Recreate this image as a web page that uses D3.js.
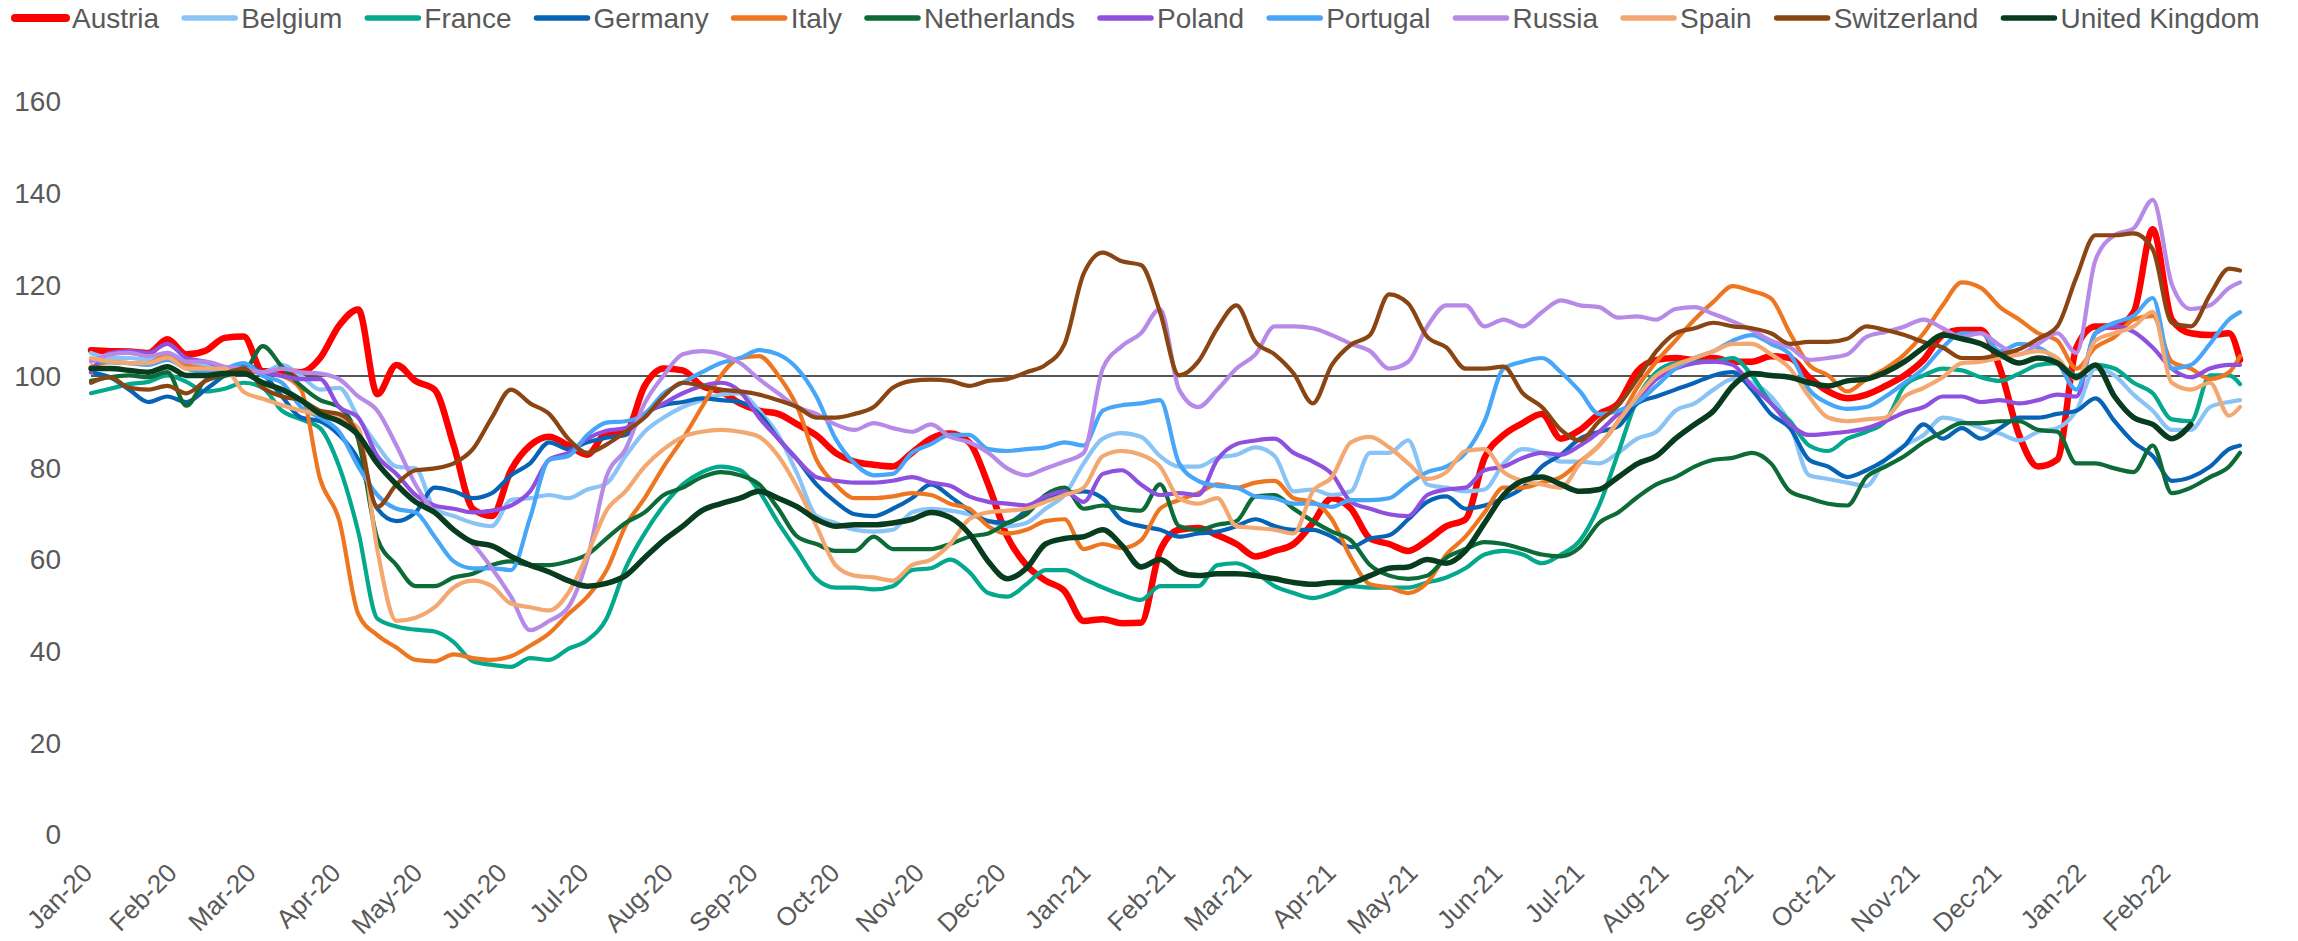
<!DOCTYPE html>
<html>
<head>
<meta charset="utf-8">
<script src="https://cdn.jsdelivr.net/npm/d3@7"></script>
<style>
  html, body { margin: 0; padding: 0; background: #fff; }
  svg text { font-family: "Liberation Sans", Arial, sans-serif; font-size: 28px; fill: #595959; }
</style>
</head>
<body>
<svg id="chart" width="2298" height="941"></svg>
<script>
// weekly samples, Jan 13 2020 .. Mar 7 2022, plus last day Mar 11 2022
const sampleDates = [
  "2020-01-13","2020-01-20","2020-01-27","2020-02-03","2020-02-10","2020-02-17","2020-02-24",
  "2020-03-02","2020-03-09","2020-03-16","2020-03-23","2020-03-30","2020-04-06","2020-04-13",
  "2020-04-20","2020-04-27","2020-05-04","2020-05-11","2020-05-18","2020-05-25","2020-06-01",
  "2020-06-08","2020-06-15","2020-06-22","2020-06-29","2020-07-06","2020-07-13","2020-07-20",
  "2020-07-27","2020-08-03","2020-08-10","2020-08-17","2020-08-24","2020-08-31","2020-09-07",
  "2020-09-14","2020-09-21","2020-09-28","2020-10-05","2020-10-12","2020-10-19","2020-10-26",
  "2020-11-02","2020-11-09","2020-11-16","2020-11-23","2020-11-30","2020-12-07","2020-12-14",
  "2020-12-21","2020-12-28","2021-01-04","2021-01-11","2021-01-18","2021-01-25","2021-02-01",
  "2021-02-08","2021-02-15","2021-02-22","2021-03-01","2021-03-08","2021-03-15","2021-03-22",
  "2021-03-29","2021-04-05","2021-04-12","2021-04-19","2021-04-26","2021-05-03","2021-05-10",
  "2021-05-17","2021-05-24","2021-05-31","2021-06-07","2021-06-14","2021-06-21","2021-06-28",
  "2021-07-05","2021-07-12","2021-07-19","2021-07-26","2021-08-02","2021-08-09","2021-08-16",
  "2021-08-23","2021-08-30","2021-09-06","2021-09-13","2021-09-20","2021-09-27","2021-10-04",
  "2021-10-11","2021-10-18","2021-10-25","2021-11-01","2021-11-08","2021-11-15","2021-11-22",
  "2021-11-29","2021-12-06","2021-12-13","2021-12-20","2021-12-27","2022-01-03","2022-01-10",
  "2022-01-17","2022-01-24","2022-01-31","2022-02-07","2022-02-14","2022-02-21","2022-02-28",
  "2022-03-07","2022-03-11"
];

const austria = [
  105.6,105.4,105.3,105,108,104.7,105.5,108.3,108.6,101,101,100.8,103.9,111,114.5,96,102.4,98.9,97,84.8,71,69.4,79.4,84.8,86.7,84.8,82.8,87.5,
  87.8,97.8,101.6,101.2,97.8,96.6,94,92.4,91.7,89.4,87,83.2,81.3,80.6,80.2,83.2,86.3,87.4,85.5,76.3,64.9,58.7,55.3,53,46.5,46.9,46,
  46.1,61.8,66.4,66.8,65.2,63.3,60.6,61.8,63.3,67.9,73.3,71,64.5,63.3,61.8,64.1,67.2,68.7,82.1,87.1,89.7,91.7,86.3,88.2,91.7,94,101,
  103.5,103.9,103.5,103.9,103.1,103.1,104.3,103.9,99.7,96.6,95.1,95.9,97.8,100.1,103.5,108.9,110,110,101.6,87.1,80.2,81.7,106.2,110.8,110.8,113.9,132,112.3,109.3,108.9,109.3,103.5
];
const belgium = [
  105,103.9,103.9,103.5,105,103.1,102.4,101.6,101.6,100.8,102.4,100,97,97.4,90.9,84.8,80.2,79.8,71,69.4,67.9,67.2,72.9,73.3,74,73.3,75.2,76.5,
  82.5,87.8,90.9,93.2,94.7,95.9,96.2,92.4,87.1,78.6,69.4,67.9,66.4,66,66.4,70.2,71,70.6,69.8,68.3,67.2,67.9,71,74,80.9,86.3,87.5,
  86.7,82.5,80.2,80.2,82.1,82.8,84.4,82.5,74.8,75.2,74,74.8,83.2,83.2,85.9,76.3,75.6,74.8,75.2,80.9,84,83.2,81.3,81.3,80.9,83.2,86.3,
  87.8,92.4,94,97,99.3,98.5,95.5,89.4,78.3,77.5,76.7,76,81.7,84.8,87.1,90.9,90.1,88.6,87.4,85.9,87.8,88.6,92.4,101.6,100.1,95.9,92.4,88.2,88.2,93.2,94.3,94.7
];
const france = [
  96.2,97.2,98.2,98.7,100.1,98.7,96.6,97.2,98.5,97.4,92.4,90.5,88.6,80.2,66,47,45.3,44.6,44.2,41.9,37.7,36.9,36.5,38.4,38,40.4,42.3,47,
  58,65.6,71.7,76.3,79,80.2,79.4,74.8,67.9,61.8,55.7,53.8,53.8,53.4,54.1,57.6,58,59.9,57.2,52.6,51.8,54.5,57.6,57.6,55.7,53.8,52.2,
  51.1,54.1,54.1,54.1,58.7,59.1,57.2,54.1,52.6,51.5,52.6,54.1,53.8,53.8,53.8,54.9,56,58,61,61.8,61,59.1,61,64.1,71.7,83.2,95,
  100.8,102.8,103.1,103.1,103.9,100.1,94,90.1,84.8,83.6,86.3,87.8,90.1,97.8,100.1,101.6,101.2,99.7,98.9,100.5,102.4,102.8,100.1,102.4,101.6,98.5,96.2,90.5,90.1,100.1,100.1,98.2
];
const germany = [
  100.8,99.7,97,94.3,95.5,94.3,97,100.1,102.4,100.5,95.5,90.9,90.1,87.1,81.7,71,68.3,70.2,75.6,74.8,73.3,74.4,78.3,80.9,85.5,84,85.5,86.5,
  87.1,91.7,93.6,94.3,95.1,94.7,94.3,91.7,86.3,81.7,76.3,72.5,69.8,69.4,71,73.3,76.3,73.7,70.6,68.3,67.9,70.6,73.3,74.4,74.8,73.3,68.5,
  67.2,66.4,64.9,65.6,66,67.2,68.7,67.2,66.4,66.4,64.9,62.6,64.5,65.2,68.7,72.5,73.7,71,71.7,73.3,75.6,80.2,82.8,86.3,87.8,89,94,
  95.5,97,98.5,100.1,100.8,97,91.7,88.6,81.7,80.2,77.9,79.4,81.7,84.8,89.4,86.3,88.6,86.3,88.6,90.9,90.9,91.7,92.4,95.1,90.1,85.5,82.5,77.1,77.9,80.2,84,84.8
];
const italy = [
  102,103,102.8,102.8,104.7,102.4,101.6,100.8,100.8,100.8,100,97,77.5,68.5,48,43.4,40.7,38,37.7,39.2,38.4,38,38.8,41.1,43.8,48,51.8,57.5,
  67.2,73.3,80.2,86.3,93.2,100.1,103.9,104.3,100.1,93.2,81.7,76.3,73.3,73.3,73.7,74.4,74,72.1,71,67.2,65.6,66.4,68.3,68.7,62.2,63.3,62.4,
  64.1,71,72.9,74.4,76.3,75.6,76.7,77.1,73.3,72.5,68.7,60.3,54.5,53.8,52.6,54.9,61,64.9,70.2,75.6,75.6,76.7,77.9,81.3,84.8,90.1,97.5,
  103.1,107.7,112.3,116.2,119.6,118.5,116.9,109.3,102.4,100.1,96.6,99.3,101.6,104.7,109.3,115.4,120.4,119.2,115,112.3,109.3,107.7,101.6,106.2,108.5,112.3,113.1,103.1,101.6,99.3,100.8,104.3
];
const netherlands = [
  98.9,99.7,100.1,99.7,100.8,93.5,99,100,100.8,106.5,102,97.8,94.7,93.2,86,64.5,58.7,54.1,54.1,56,56.8,58.7,59.5,58.7,58.7,59.5,61,64.5,
  67.9,70.2,74,75.6,77.9,79,78.3,76.3,71,64.9,63.3,61.8,61.8,64.9,62.2,62.2,62.2,63.3,64.9,65.6,67.9,69.8,74,75.6,71,71.7,71,
  70.6,76.3,67.2,66.4,67.5,68.3,73.7,74,71,68.3,66,64.1,58.7,56.4,55.7,56.4,60.3,62.2,63.7,63.3,62.2,61,60.6,62.6,67.9,70.2,73.5,
  76.3,77.9,80.2,81.7,82.1,83.2,80.9,74.8,73.3,72.1,71.7,77.9,80.2,82.5,85.5,87.8,89.7,89.7,90.1,90.1,88.2,87.8,80.9,80.9,79.8,79,84.8,74.4,75.6,77.9,80.2,83.2
];
const poland = [
  100.8,105,105.4,105,107,103.9,103.1,101.8,101.2,100.8,100,99.3,99.3,93.2,90.9,82.5,78.6,74,71.7,71,70.2,70.6,71.7,74.8,81.7,83.2,86.3,88,
  88.6,91.7,94,96.2,97.8,98.5,96.6,90.9,86.3,81.7,77.9,77.1,76.7,76.7,77.1,77.9,76.7,76,73.7,72.5,72.1,71.7,73.7,74.8,72.5,78.6,79.4,
  76.3,74,74.4,74,81.7,85.1,85.9,86.3,83.2,81.3,78.6,72.5,71,69.8,69.4,74,75.2,75.6,79.4,80.2,82.1,83.2,82.8,84.8,87.8,91.7,95,
  99.3,101.6,102.8,103.1,102.4,97.8,94,89.4,87.1,87.4,87.8,88.6,90.1,92,93.2,95.5,95.5,94.3,94.7,94,94.7,95.9,95.5,109.3,110.8,109.6,106.2,101.6,99.7,101.6,102.4,102.4
];
const portugal = [
  103.5,103,102.8,102.4,103.5,101.6,100.8,101.6,102.8,100,98.5,93.2,90.9,87.8,80.2,74,71,70.2,64.9,59.5,58,58,57.6,69,81.7,82.5,87.1,89.8,
  90.1,91.7,96.2,98.5,100.8,102.8,103.9,105.6,104.7,101.6,95.5,86.3,80.9,78.3,78.6,83.2,85.1,87.1,87.1,84,83.6,84,84.4,85.5,84.8,92.4,93.6,
  94,94.7,80.9,77.1,76,75.6,73.7,73.3,72.1,72.1,71.4,72.9,72.9,73.3,76.3,79,80.2,83.2,90.1,101.6,103.1,103.9,100.8,96.6,91.7,92.4,94.3,
  97.8,101.6,103.9,105.4,107.7,108.9,107,104.7,97,94,92.8,93.2,95.5,98.5,101.6,106.2,109.3,109.3,105.4,107,106.2,103.1,97,109.3,111.6,113.1,117,101.6,102.4,107,112.3,113.9
];
const russia = [
  103.1,104.7,105,104.3,105,103.1,103.1,102,101.6,100.8,101.6,100.8,100.5,99.3,95.5,92.4,84.8,76.3,70.2,66.4,63.3,58,51.8,44.5,46.5,49.5,60,78,
  84,94,100.1,104.7,105.4,104.7,102.8,99.3,96.2,93.2,91.7,89.4,88.2,89.7,88.6,87.8,89.4,86.7,85.5,83.2,79.8,78.3,79.8,81.3,83.2,101.6,106.5,
  109.3,114.6,97,93.2,97,101.6,104.7,110.8,110.8,110.4,108.9,107,105.4,101.6,103.1,110.8,115.4,115.4,110.8,112.3,110.8,113.9,116.5,115.4,115,112.7,113,
  112.3,114.6,115,113.5,111.9,110,107.7,106.2,103.5,103.9,104.7,108.5,109.6,110.8,112.3,110.4,108.5,109.3,106.6,104.7,107,109.3,105,125.3,130.7,132.2,138.4,120,114.6,115.4,119.2,120.4
];
const spain = [
  103.9,103.1,102.8,102.8,104,101.6,101.6,101.6,96.5,95,93.6,92.4,91.7,90.9,88.6,62,46.5,47.2,49.5,53.8,55.3,54.1,50.3,49.5,48.8,52.6,61,70.6,
  74.8,80.2,84,86.7,87.8,88.2,87.8,86.7,82.5,75.6,67.2,58.7,56.4,56,55.3,58.7,59.9,63.3,68.7,70.2,70.6,71,72.5,74,75.6,82.5,83.6,
  82.8,80.2,73.3,72.1,73.3,67.2,66.8,66.4,65.6,74.8,77.9,85.5,86.7,84.4,80.9,77.5,79,83.6,84,79,77.1,76.3,75.6,80.9,84.8,90.1,95.5,
  100.1,102.4,103.9,105.4,107,107,104.7,101.6,95.5,90.9,90.1,90.5,90.9,95.5,97.4,99.7,102.8,103.1,103.9,104.7,105.4,103.9,99.3,107.7,109.3,110.8,114,98.5,97,98.5,91.3,93.2
];
const switzerland = [
  98.5,99.7,97.4,97,97.8,96.2,98.9,100.5,101.6,97.4,95.5,94.7,92.4,91.7,87,71.4,76.3,79.4,79.8,80.9,84,90.9,97,94,91.7,86.3,83.2,85,
  87.8,90.9,95.5,98.5,97.8,97,96.6,95.9,94.7,93.2,90.9,90.9,91.7,93.2,97.4,98.9,99.2,98.9,97.8,98.9,99.3,100.8,102.4,107,122.3,126.9,125,
  124.2,113.9,100.1,103.1,110.4,115.4,107.4,104.7,100.5,94,102.4,106.8,108.9,117.8,115.8,108.5,106.2,101.6,101.6,102,96.2,93.2,88.2,85.9,90.1,93.6,99.3,
  105.4,109.3,110.4,111.6,110.8,110.4,109.3,107,107.4,107.4,108.1,110.8,110,108.9,107.4,106.2,103.9,103.9,104.7,105.8,108.1,110.8,121.5,130.7,130.7,131.1,127.6,111.6,110.8,117.7,123.4,123
];
const unitedKingdom = [
  101.6,101.6,101.2,100.8,102,100.1,100.1,100.5,100.5,98.5,97,94.7,91.7,90.1,87.1,80.9,76.3,72.5,70.2,66.4,63.7,62.9,60.6,58.7,57.2,55.3,54.1,54.7,
  56.4,60.3,64.1,67.2,70.6,72.1,73.3,74.8,73.3,71.4,68.7,67.2,67.5,67.5,67.9,68.7,70.2,69.1,65.6,59.5,55.7,58,63.3,64.5,64.9,66.4,63,
  58.3,59.9,57.2,56.4,56.8,56.8,56.4,55.7,54.9,54.5,54.9,54.9,56.4,58,58.3,59.9,59.1,61.8,67.9,74,77.1,77.9,76.3,74.8,75.2,77.9,80.8,
  82.5,86.3,89.4,92.4,97.8,100.5,100.1,99.7,98.5,97.8,98.9,99.3,100.8,103.1,106.2,108.9,108.1,107,104.7,102.8,103.9,102.8,99.7,102.4,95.5,90.9,89.4,86.3,89.4,null,null,null
];

const countries = ["Austria","Belgium","France","Germany","Italy","Netherlands","Poland","Portugal","Russia","Spain","Switzerland","United Kingdom"];
const colors = ["#ff0000","#8ac4f7","#04a88c","#0763b5","#ee7621","#0d6b37","#9050df","#47a6f7","#b78ae7","#f4a871","#8b4513","#073d1e"];
const yTicks = [0, 20, 40, 60, 80, 100, 120, 140, 160];

const series = [austria, belgium, france, germany, italy, netherlands, poland, portugal, russia, spain, switzerland, unitedKingdom]
  .map((vals, i) => ({
    name: countries[i],
    color: colors[i],
    width: i === 0 ? 6.5 : (i === 11 ? 5.5 : 4.2),
    values: vals
  }));

const parseDate = d3.timeParse("%Y-%m-%d");
const dates = sampleDates.map(parseDate);

const svg = d3.select("#chart");
const plotLeft = 91, plotRight = 2240, yTop = 101, yBottom = 834;

const x = d3.scaleTime()
  .domain([parseDate("2020-01-13"), parseDate("2022-03-11")])
  .range([plotLeft, plotRight]);
const y = d3.scaleLinear().domain([0, 160]).range([yBottom, yTop]);

// month ticks fall on the 13th, same as the first sample
const tickDates = d3.range(26).map(i => new Date(2020, i, 13));

// y axis labels only
const yAxis = svg.append("g")
  .attr("transform", `translate(61,0)`)
  .call(d3.axisLeft(y).tickValues(yTicks).tickSize(0).tickPadding(0));
yAxis.select(".domain").remove();
yAxis.selectAll("text").attr("dy", "0.35em").style("font-size", "28px").attr("fill", "#595959");

// x axis labels, rotated
const xAxis = svg.append("g")
  .attr("transform", `translate(-4,868)`)
  .call(d3.axisBottom(x).tickValues(tickDates).tickFormat(d3.timeFormat("%b-%y")).tickSize(0).tickPadding(0));
xAxis.select(".domain").remove();
xAxis.selectAll("text")
  .attr("y", 0)
  .attr("dy", "0.35em")
  .attr("text-anchor", "end")
  .attr("transform", "rotate(-45)")
  .style("font-size", "26px")
  .attr("fill", "#595959");

// reference line at 100
svg.append("line")
  .attr("x1", plotLeft).attr("x2", plotRight)
  .attr("y1", y(100)).attr("y2", y(100))
  .attr("stroke", "#555").attr("stroke-width", 2);

const line = d3.line()
  .defined(d => d.v != null)
  .x(d => x(d.date))
  .y(d => y(d.v))
  .curve(d3.curveMonotoneX);

svg.append("g").selectAll("path")
  .data(series)
  .join("path")
  .attr("fill", "none")
  .attr("stroke", d => d.color)
  .attr("stroke-width", d => d.width)
  .attr("stroke-linejoin", "round")
  .attr("stroke-linecap", "round")
  .attr("d", d => line(d.values.map((v, i) => ({ date: dates[i], v }))));

// legend across the top
const legend = svg.append("g");
let lx = 11;
series.forEach(s => {
  legend.append("line")
    .attr("x1", lx + 4).attr("x2", lx + 55)
    .attr("y1", 18).attr("y2", 18)
    .attr("stroke", s.color)
    .attr("stroke-width", s.name === "Austria" ? 8 : 5.5)
    .attr("stroke-linecap", "round");
  const t = legend.append("text")
    .attr("x", lx + 61).attr("y", 27.5)
    .text(s.name);
  lx += 61 + t.node().getComputedTextLength() + 21;
});

const bad = series.filter(s => s.values.length !== dates.length).map(s => s.name + ":" + s.values.length);
if (bad.length) throw new Error("length mismatch " + dates.length + " " + bad.join(","));
</script>
</body>
</html>
